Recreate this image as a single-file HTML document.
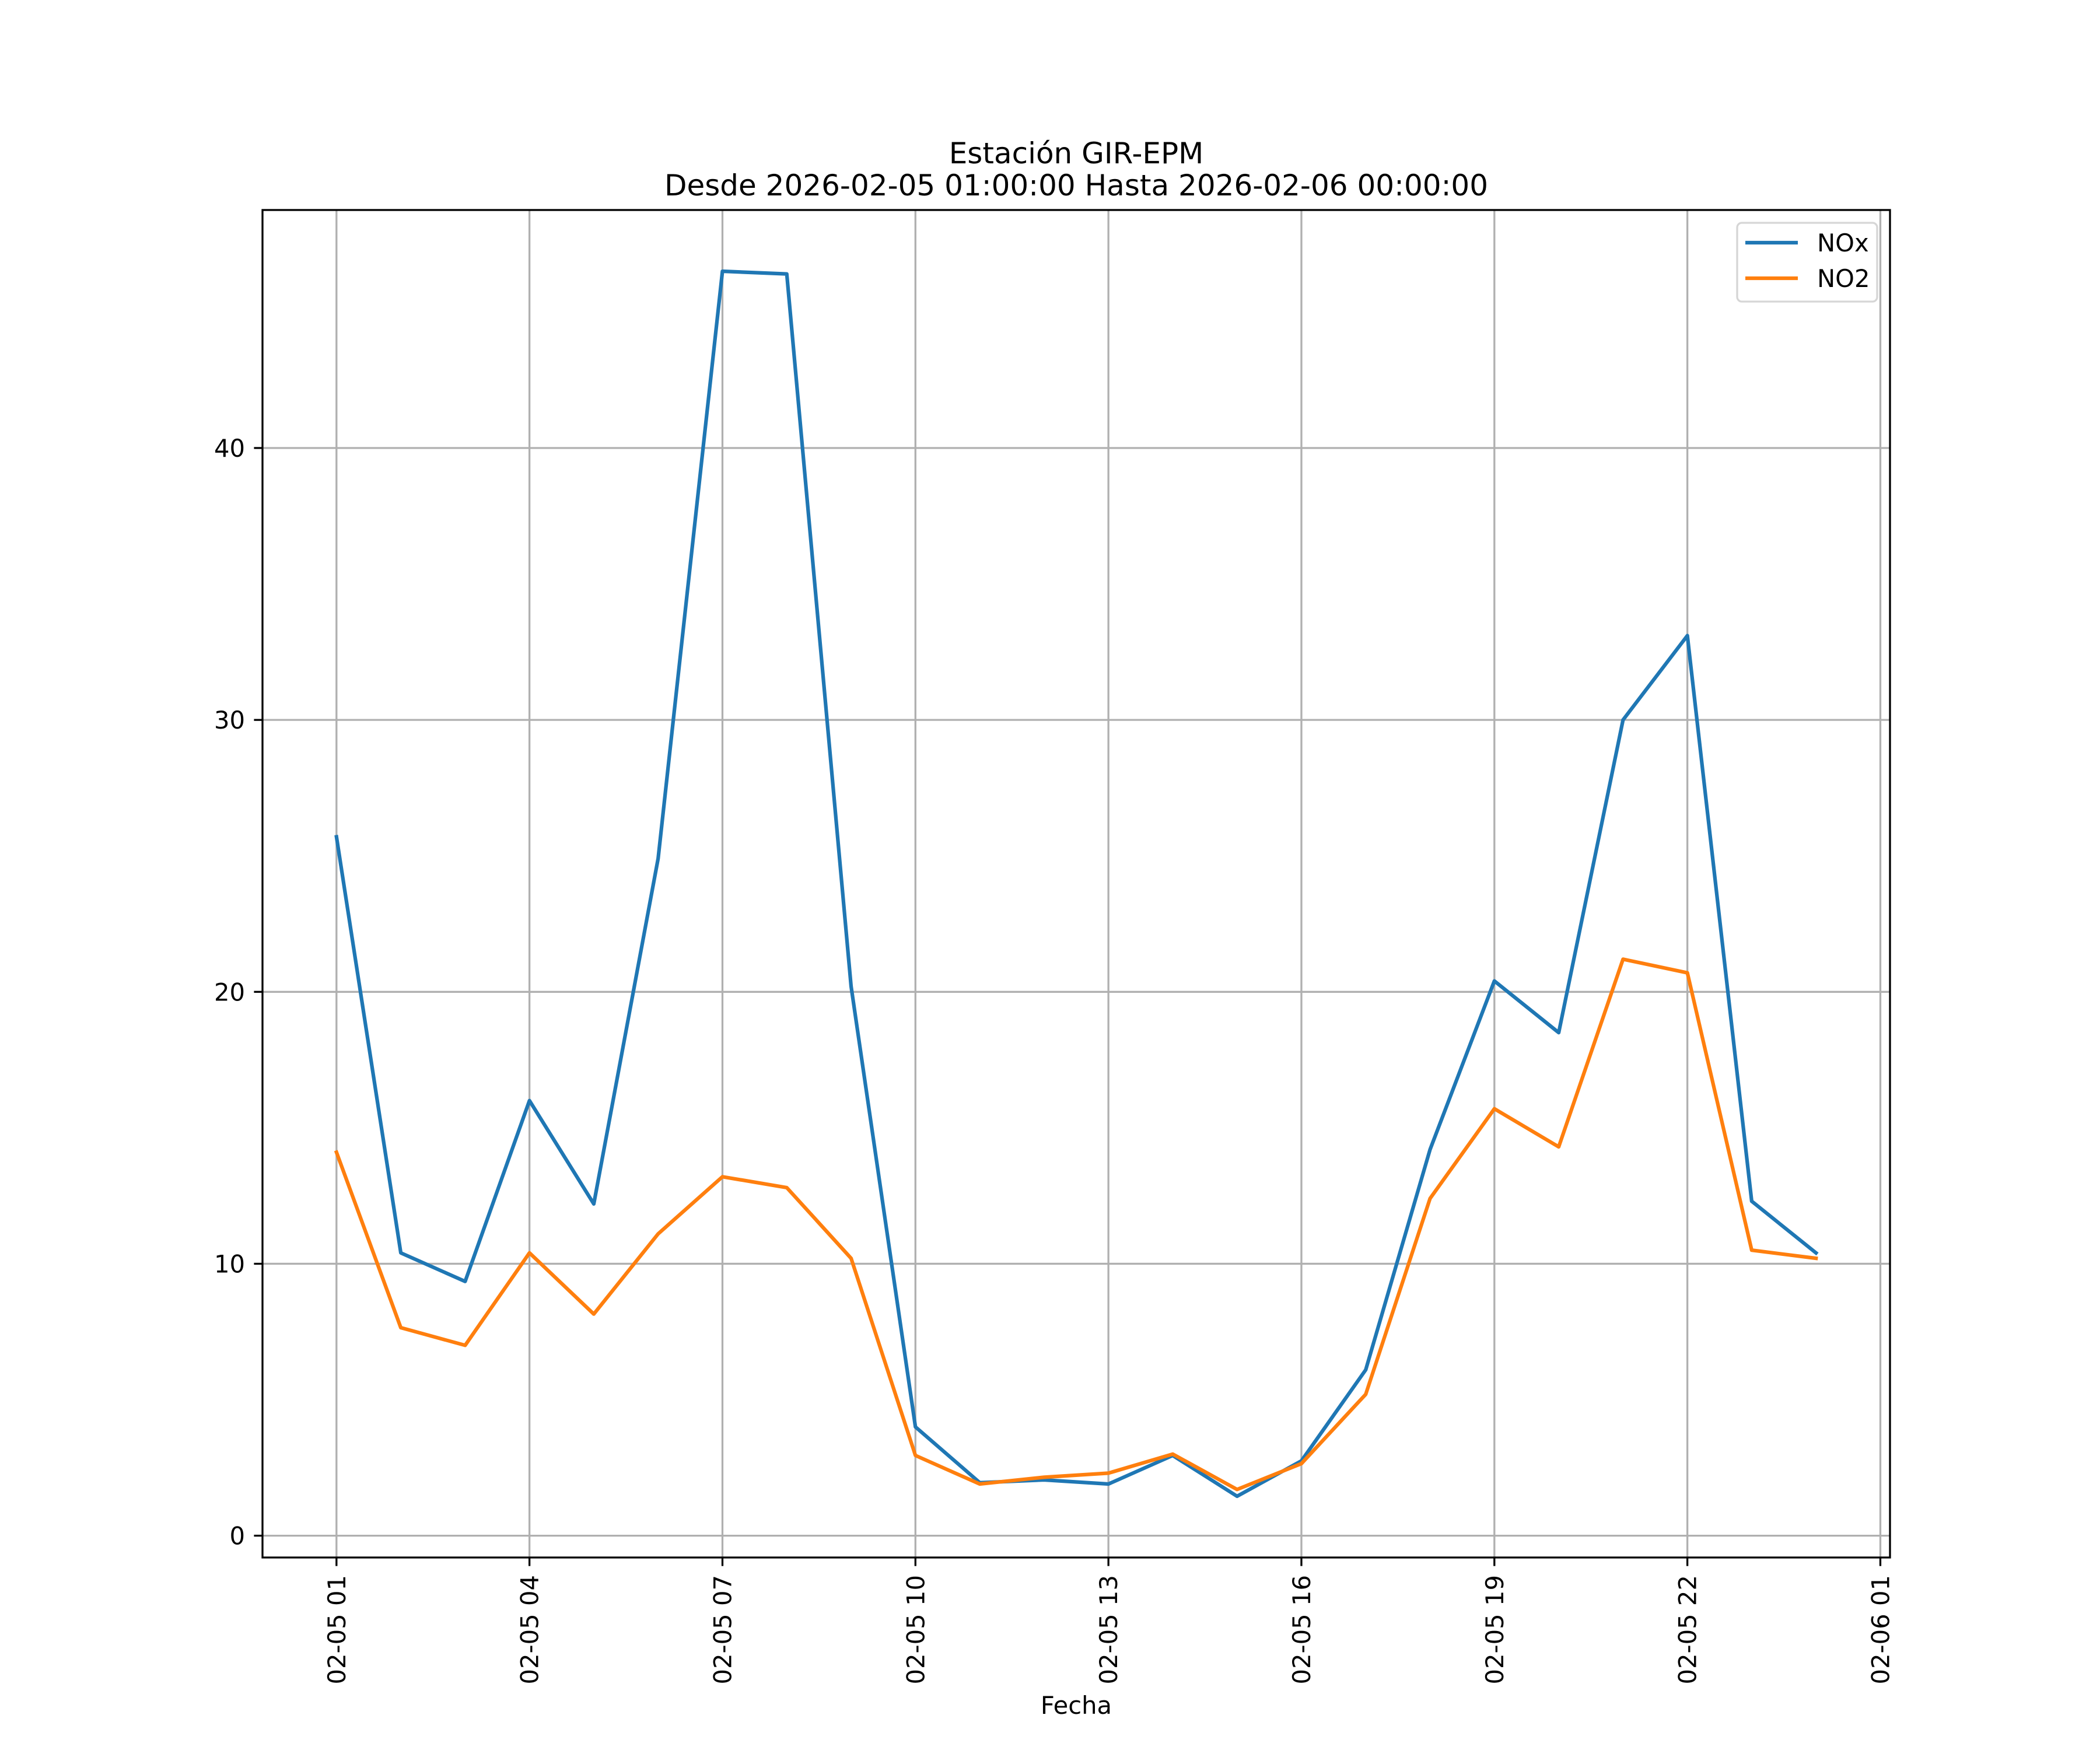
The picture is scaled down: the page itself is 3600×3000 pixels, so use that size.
<!DOCTYPE html>
<html><head><meta charset="utf-8"><style>html,body{margin:0;padding:0;background:#fff}svg{display:block}</style></head>
<body>
<svg id="chart" width="3600" height="3000" viewBox="0 0 3600 3000" xmlns="http://www.w3.org/2000/svg" font-family="DejaVu Sans, Liberation Sans, sans-serif">
<rect width="3600" height="3000" fill="#fff"/>
<text x="1845" y="280" font-size="50" text-anchor="middle">Estación GIR-EPM</text>
<text x="1845" y="335" font-size="50" text-anchor="middle">Desde 2026-02-05 01:00:00 Hasta 2026-02-06 00:00:00</text>
<g id="grid"></g>
<g id="series"></g>
<rect x="450" y="360" width="2790" height="2310" fill="none" stroke="#000" stroke-width="3.3"/>
<g id="ticks"></g>
<text x="1845" y="2938" font-size="41.7" text-anchor="middle">Fecha</text>
<g>
<rect x="2978" y="382" width="240" height="135" rx="8" fill="#fff" fill-opacity="0.8" stroke="#d6d6d6" stroke-width="3.3"/>
<line x1="2992" y1="416" x2="3082" y2="416" stroke="#1f77b4" stroke-width="6.25"/>
<text x="3115" y="431" font-size="41.7">NOx</text>
<line x1="2992" y1="477" x2="3082" y2="477" stroke="#ff7f0e" stroke-width="6.25"/>
<text x="3115" y="492" font-size="41.7">NO2</text>
</g>
</svg>
<script>
const hours = [0,1,2,3,4,5,6,7,8,9,10,11,12,13,14,15,16,17,18,19,20,21,22,23];
const noxValues = [25.7,10.4,9.35,16.0,12.2,24.9,46.5,46.4,20.2,4.0,1.95,2.05,1.9,2.95,1.45,2.75,6.1,14.2,20.4,18.5,30.0,33.1,12.3,10.4];
const no2Values = [14.1,7.65,7.0,10.4,8.15,11.1,13.2,12.8,10.2,2.95,1.9,2.15,2.3,3.0,1.7,2.65,5.2,12.4,15.7,14.3,21.2,20.7,10.5,10.2];
const xTickHours = [0,3,6,9,12,15,18,21,24];
const xTickLabels = ["02-05 01","02-05 04","02-05 07","02-05 10","02-05 13","02-05 16","02-05 19","02-05 22","02-06 01"];
const yTicks = [0,10,20,30,40];

const NS="http://www.w3.org/2000/svg";
const L=450,R=3240,T=360,B=2670;
const all=noxValues.concat(no2Values);
const ymn=Math.min(...all),ymx=Math.max(...all),yr=ymx-ymn;
const y0=ymn-0.05*yr,y1=ymx+0.05*yr;
const xr=hours[hours.length-1]-hours[0];
const x0=hours[0]-0.05*xr,x1=hours[hours.length-1]+0.05*xr;
const X=h=>L+(h-x0)/(x1-x0)*(R-L);
const Y=v=>B-(v-y0)/(y1-y0)*(B-T);
function mk(tag,attrs,parent){const e=document.createElementNS(NS,tag);for(const k in attrs)e.setAttribute(k,attrs[k]);parent.appendChild(e);return e;}
const grid=document.getElementById('grid'),ticks=document.getElementById('ticks'),series=document.getElementById('series');
xTickHours.forEach((h,i)=>{
  const x=X(h);
  const g=mk('line',{x1:x,x2:x,y1:T,y2:B,stroke:'#b0b0b0','stroke-width':3.3},grid);
  
  
  const t=mk('line',{x1:x,x2:x,y1:B,y2:B+14.6,stroke:'#000','stroke-width':3.3},ticks);
  
  
  const lb=mk('text',{x:0,y:0,'font-size':41.7,'text-anchor':'end',transform:`translate(${x+15},${B+30}) rotate(-90)`},ticks);
  lb.textContent=xTickLabels[i];
  
  
});
yTicks.forEach(v=>{
  const y=Y(v);
  const g=mk('line',{x1:L,x2:R,y1:y,y2:y,stroke:'#b0b0b0','stroke-width':3.3},grid);
  
  
  const t=mk('line',{x1:L-14.6,x2:L,y1:y,y2:y,stroke:'#000','stroke-width':3.3},ticks);
  
  
  const lb=mk('text',{x:L-30,y:y+15,'font-size':41.7,'text-anchor':'end'},ticks);
  lb.textContent=String(v);
  
  
});
function line(vals,color,name){
  const p=mk('polyline',{points:vals.map((v,i)=>X(hours[i])+','+Y(v)).join(' '),fill:'none',stroke:color,'stroke-width':6.25,'stroke-linejoin':'round','stroke-linecap':'square'},series);
  
  
}
line(noxValues,'#1f77b4','nox-line');
line(no2Values,'#ff7f0e','no2-line');
</script>
</body></html>
